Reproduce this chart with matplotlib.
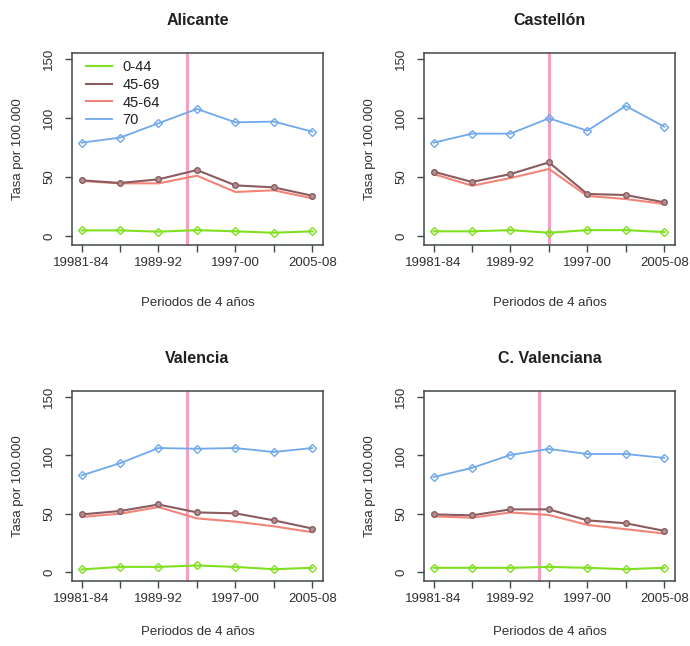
import numpy as np
import matplotlib
matplotlib.use("Agg")
import matplotlib.pyplot as plt

plt.rcParams['font.family'] = ['Liberation Sans', 'DejaVu Sans']

# Data
periods = [1, 2, 3, 4, 5, 6, 7]
tick_pos = [1, 3, 5, 7]
tick_labels = ['19981-84', '1989-92', '1997-00', '2005-08']
regions = ['Alicante', 'Castellón', 'Valencia', 'C. Valenciana']
vline_x = [3.74, 4.0, 3.74, 3.75]

age_labels = ['0-44', '45-69', '45-64', '70']

g0_44 = [
    [4.8, 4.8, 3.7, 5.0, 4.0, 2.8, 4.0],
    [4.0, 4.0, 5.0, 2.8, 5.0, 5.0, 3.4],
    [2.3, 4.5, 4.5, 5.7, 4.5, 2.5, 3.7],
    [3.7, 3.7, 3.7, 4.5, 3.7, 2.5, 3.7],
]
g45_69 = [
    [47.3, 45.0, 48.1, 56.0, 43.0, 41.3, 34.2],
    [54.6, 45.9, 52.6, 62.5, 35.7, 34.8, 28.6],
    [49.5, 52.4, 58.0, 51.2, 50.4, 44.4, 37.4],
    [49.5, 48.7, 53.8, 53.8, 44.4, 41.9, 35.4],
]
g45_64 = [
    [46.7, 44.7, 44.7, 51.2, 37.4, 38.8, 32.0],
    [52.6, 42.7, 49.2, 56.9, 34.0, 31.4, 27.2],
    [47.3, 50.1, 55.8, 46.1, 43.3, 39.3, 34.2],
    [47.8, 46.7, 51.2, 49.0, 40.5, 36.8, 33.1],
]
g70 = [
    [79.2, 83.5, 95.7, 107.8, 96.5, 97.1, 88.6],
    [79.2, 86.9, 86.9, 99.9, 89.4, 110.4, 92.8],
    [82.9, 93.4, 106.4, 105.8, 106.4, 103.0, 106.4],
    [81.5, 89.4, 100.5, 105.6, 101.3, 101.3, 97.9],
]

c_green = '#80e020'
c_brown = '#8a5c60'
c_salmon = '#f28478'
c_blue = '#70a8ec'
c_pink = '#f4a0c0'
c_axis = '#404848'

W, H = 690, 646
fig = plt.figure(figsize=(W / 100, H / 100), dpi=100)

# axes boxes in pixels: left, top, right, bottom
boxes = [(72, 53, 323, 245), (424, 53, 675, 245),
         (72, 391, 323, 581), (424, 391, 675, 581)]

for i, (l, t, r, b) in enumerate(boxes):
    ax = fig.add_axes([l / W, 1 - b / H, (r - l) / W, (b - t) / H])
    ax.axvline(vline_x[i], color=c_pink, lw=2.2, zorder=1)
    ax.plot(periods, g0_44[i], color=c_green, lw=1.5, marker='D', ms=4,
            mfc='none', mew=1.0, label=age_labels[0], zorder=3)
    ax.plot(periods, g45_69[i], color=c_brown, lw=1.5, marker='o', ms=4,
            mfc='#b09090', mew=1.0, label=age_labels[1], zorder=3)
    ax.plot(periods, g45_64[i], color=c_salmon, lw=1.5,
            label=age_labels[2], zorder=2)
    ax.plot(periods, g70[i], color=c_blue, lw=1.3, marker='D', ms=4,
            mfc='none', mew=1.0, label=age_labels[3], zorder=3)

    ax.set_xlim(0.75, 7.28)
    ax.set_ylim(-7.6, 155.3)
    ax.set_xticks(periods)
    ax.set_xticklabels(['' if p not in tick_pos else tick_labels[tick_pos.index(p)]
                        for p in periods])
    ax.set_yticks([0, 50, 100, 150])
    ax.set_yticklabels(['0', '50', '100', '150'], rotation=90, va='center')
    ax.tick_params(direction='out', length=5, width=1, color=c_axis,
                   labelcolor='#303030', labelsize=9.5)
    ax.tick_params(axis='x', pad=4)
    ax.tick_params(axis='y', pad=7)
    for s in ax.spines.values():
        s.set_color(c_axis)
        s.set_linewidth(1.1)

    ax.set_title(regions[i], fontsize=11.5, fontweight='bold', color='#202020', pad=20)
    # bottom row label kept a little higher so it is not clipped
    ax.set_xlabel('Periodos de 4 años', fontsize=9.5, color='#303030',
                  labelpad=20 if i < 2 else 15)
    ax.set_ylabel('Tasa por 100.000', fontsize=9.5, color='#303030', labelpad=14)

    if i == 0:
        leg = ax.legend(loc='upper left', bbox_to_anchor=(0.04, 0.985),
                        frameon=False, fontsize=10.5, borderaxespad=0,
                        borderpad=0.3, handlelength=1.75, handletextpad=0.7,
                        labelspacing=0.25)
        for h in leg.legend_handles:
            h.set_marker('')
        for tx in leg.get_texts():
            tx.set_color('#202020')

fig.savefig('out.png', dpi=100, facecolor='white')
